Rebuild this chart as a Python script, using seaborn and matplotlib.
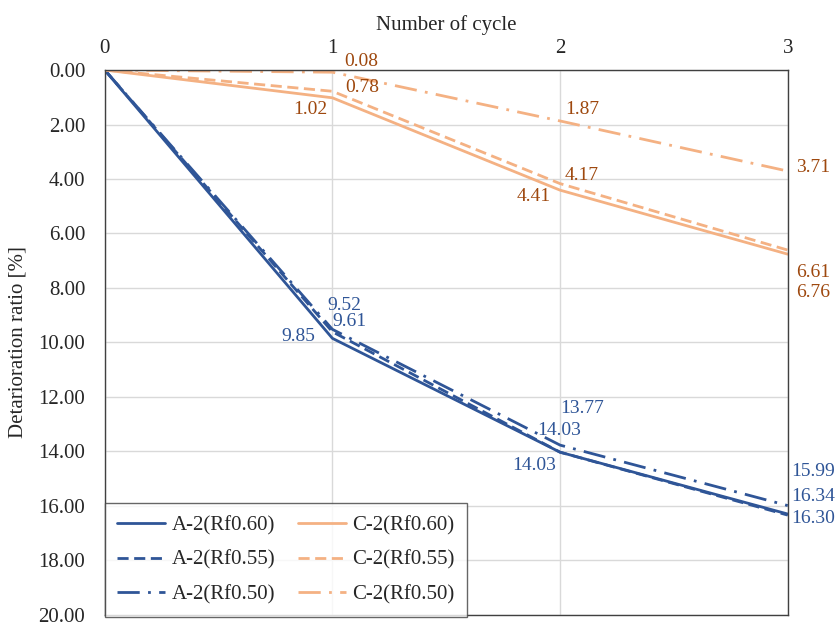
import matplotlib
matplotlib.use("Agg")
import matplotlib.pyplot as plt
import seaborn as sns
import pandas as pd

cycles = [0, 1, 2, 3]
series_names = ["A-2(Rf0.60)", "A-2(Rf0.55)", "A-2(Rf0.50)",
                "C-2(Rf0.60)", "C-2(Rf0.55)", "C-2(Rf0.50)"]
a_060 = [0, 9.85, 14.03, 16.30]
a_055 = [0, 9.61, 14.03, 16.34]
a_050 = [0, 9.52, 13.77, 15.99]
c_060 = [0, 1.02, 4.41, 6.76]
c_055 = [0, 0.78, 4.17, 6.61]
c_050 = [0, 0.08, 1.87, 3.71]
values = [a_060, a_055, a_050, c_060, c_055, c_050]

blue = "#2F5597"
orange = "#F4B183"
blue_txt = "#2F5597"
orange_txt = "#9E480E"
colors = [blue, blue, blue, orange, orange, orange]
dashes = [None, (4, 2), (8, 3, 1, 3), None, (4, 2), (8, 3, 1, 3)]

# label offsets in image pixels (dx right, dy down) for points at cycles 1,2,3
offsets = {
    "A-2(Rf0.60)": [(-34, -2), (-26, 13), (25, 4)],
    "A-2(Rf0.55)": [(17, -10), (-1, -22), (25, -19)],
    "A-2(Rf0.50)": [(12, -24), (22, -37), (25, -34)],
    "C-2(Rf0.60)": [(-22, 12), (-26, 6), (25, 38)],
    "C-2(Rf0.55)": [(30, -4), (22, -8), (25, 22)],
    "C-2(Rf0.50)": [(29, -11), (22, -11), (25, -4)],
}

rows = []
for name, vals in zip(series_names, values):
    for c, v in zip(cycles, vals):
        rows.append({"series": name, "cycle": c, "ratio": v})
df = pd.DataFrame(rows)

sns.set_theme(style="white")
plt.rcParams["font.family"] = ["Liberation Serif", "DejaVu Serif"]

FS = 15
fig = plt.figure(figsize=(8.38, 6.28), dpi=100)
ax = fig.add_axes([0.125, 0.021, 0.815, 0.8675])

for name, col, d in zip(series_names, colors, dashes):
    sub = df[df["series"] == name]
    sns.lineplot(data=sub, x="cycle", y="ratio", ax=ax, color=col,
                 linewidth=2.0, label=name, legend=False)
    line = ax.get_lines()[-1]
    if d is not None:
        line.set_dashes(d)

for name, vals in zip(series_names, values):
    tc = blue_txt if name.startswith("A") else orange_txt
    for (c, v), (dx, dy) in zip(list(zip(cycles, vals))[1:], offsets[name]):
        ax.annotate(f"{v:.2f}", (c, v), xytext=(dx, -dy), textcoords="offset pixels",
                    ha="center", va="center", fontsize=14, color=tc,
                    annotation_clip=False)

ax.set_xlim(0, 3)
ax.set_ylim(20, 0)
ax.set_xticks(cycles)
ax.set_xticklabels([str(c) for c in cycles])
ax.set_yticks([i * 2 for i in range(11)])
ax.set_yticklabels([f"{i*2:.2f}" for i in range(11)])
ax.xaxis.tick_top()
ax.xaxis.set_label_position("top")
ax.set_xlabel("Number of cycle", fontsize=FS, labelpad=6)
ax.set_ylabel("Detarioration ratio [%]", fontsize=FS, labelpad=8)
ax.tick_params(axis="y", labelsize=FS, length=0, pad=14)
ax.tick_params(axis="x", labelsize=FS, length=0, pad=9)
ax.grid(True, color="#D9D9D9", linewidth=1.0)
for s in ax.spines.values():
    s.set_color("#404040")
    s.set_linewidth(1.0)

h, l = ax.get_legend_handles_labels()
leg = ax.legend(h, l, ncol=2,
                loc="lower left", bbox_to_anchor=(0.0, -0.004), fontsize=FS,
                frameon=True, fancybox=False, edgecolor="#404040",
                handlelength=2.3, handletextpad=0.3, columnspacing=1.1,
                labelspacing=0.72, borderpad=0.6, borderaxespad=0.0)
leg.get_frame().set_linewidth(1.0)

fig.savefig("out.png", dpi=100)
